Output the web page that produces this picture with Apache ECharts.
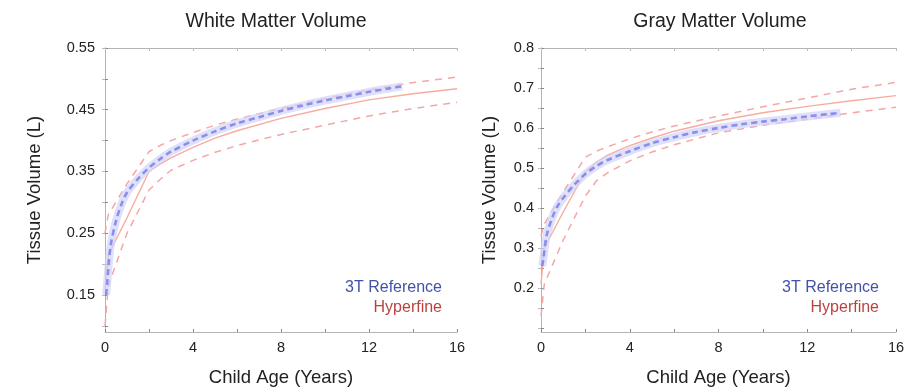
<!DOCTYPE html>
<html>
<head>
<meta charset="utf-8">
<script src="https://cdn.jsdelivr.net/npm/echarts@6/dist/echarts.min.js"></script>
<style>
  html, body { margin: 0; padding: 0; background: #fff; }
  #chart { width: 915px; height: 387px; }
</style>
</head>
<body>
<div id="chart"></div>
<script>
// ---- data ----
const titles = ['White Matter Volume', 'Gray Matter Volume']
const xTickLabels = [0, 4, 8, 12, 16]
const wmTickLabels = [0.15, 0.25, 0.35, 0.45, 0.55]
const gmTickLabels = [0.2, 0.3, 0.4, 0.5, 0.6, 0.7, 0.8]

// 3T reference curves
const ageRef = [0.05, 0.1, 0.25, 0.5, 0.75, 1, 1.5, 2, 2.5, 3, 4, 5, 6, 7, 8, 9, 10, 11, 12, 13, 13.5]
const wmRef = [0.15, 0.17, 0.228, 0.27, 0.297, 0.316, 0.338, 0.356, 0.37, 0.382, 0.4, 0.415, 0.428, 0.438, 0.448, 0.457, 0.465, 0.472, 0.479, 0.485, 0.488]
const gmRef = [0.255, 0.27, 0.33, 0.375, 0.405, 0.425, 0.458, 0.485, 0.505, 0.52, 0.542, 0.562, 0.577, 0.59, 0.6, 0.609, 0.616, 0.622, 0.629, 0.635, 0.638]

// Hyperfine fit + bounds
const ageHf = [0, 0.15, 1, 2, 2.5, 3, 4, 5, 6, 8, 10, 12, 14, 16]
const wmHf = [0.16, 0.215, 0.275, 0.35, 0.362, 0.372, 0.389, 0.404, 0.416, 0.436, 0.452, 0.466, 0.476, 0.484]
const wmHfHi = [0.25, 0.28, 0.33, 0.382, 0.392, 0.4, 0.413, 0.425, 0.435, 0.452, 0.468, 0.482, 0.494, 0.503]
const wmHfLo = [0.1, 0.165, 0.25, 0.32, 0.337, 0.352, 0.368, 0.381, 0.392, 0.41, 0.425, 0.44, 0.452, 0.462]
const gmHf = [0.21, 0.3, 0.39, 0.49, 0.515, 0.532, 0.556, 0.575, 0.592, 0.618, 0.638, 0.654, 0.668, 0.681]
const gmHfHi = [0.33, 0.36, 0.44, 0.527, 0.542, 0.553, 0.573, 0.59, 0.605, 0.63, 0.653, 0.675, 0.697, 0.714]
const gmHfLo = [0.13, 0.21, 0.32, 0.43, 0.468, 0.488, 0.518, 0.54, 0.558, 0.588, 0.607, 0.622, 0.638, 0.652]

const zip = (xs, ys) => xs.map((x, i) => [x, ys[i]])

const FONT = 'Liberation Sans, Arial, Helvetica, sans-serif'
const AXIS_GRAY = '#b4b4b4'
const REF_BLUE = '#7579e8'
const BAND = '#d2d3f8'
const HF_SOLID = '#f6ad9f'
const HF_DASH = '#f5a6a6'

const grids = [
  { left: 105, top: 48, width: 352, height: 284, outerBoundsMode: 'none' },
  { left: 541, top: 48, width: 355, height: 284, outerBoundsMode: 'none' },
]
const yNameGap = [61, 42]

const yRanges = [
  { min: 0.09, max: 0.55, labels: wmTickLabels, ticks: [0.1, 0.15, 0.2, 0.25, 0.3, 0.35, 0.4, 0.45, 0.5, 0.55] },
  { min: 0.09, max: 0.8, labels: gmTickLabels, ticks: [0.1, 0.15, 0.2, 0.25, 0.3, 0.35, 0.4, 0.45, 0.5, 0.55, 0.6, 0.65, 0.7, 0.75, 0.8] },
]

const xAxes = []
const yAxes = []
grids.forEach((g, i) => {
  xAxes.push({
    gridIndex: i, type: 'value', min: 0, max: 16, interval: 2,
    axisLine: { lineStyle: { color: AXIS_GRAY } },
    axisTick: { inside: true, length: 3, lineStyle: { color: '#888' } },
    axisLabel: { customValues: xTickLabels, color: '#222', fontSize: 14.5, fontFamily: FONT, margin: 8 },
    splitLine: { show: false },
    name: 'Child Age (Years)', nameLocation: 'middle', nameGap: 36,
    nameTextStyle: { color: '#222', fontSize: 18.5, fontFamily: FONT },
  })
  xAxes.push({
    gridIndex: i, type: 'value', min: 0, max: 16, interval: 2, position: 'top',
    axisLine: { lineStyle: { color: AXIS_GRAY } },
    axisTick: { inside: true, length: 3, lineStyle: { color: '#bbb' } },
    axisLabel: { show: false }, splitLine: { show: false },
  })
  const r = yRanges[i]
  yAxes.push({
    gridIndex: i, type: 'value', min: r.min, max: r.max,
    axisLine: { show: true, lineStyle: { color: AXIS_GRAY } },
    axisTick: { show: true, inside: true, length: 3, customValues: r.ticks, lineStyle: { color: '#888' } },
    axisLabel: { customValues: r.labels, color: '#222', fontSize: 14.5, fontFamily: FONT, margin: i ? 7 : 10 },
    splitLine: { show: false },
    name: 'Tissue Volume (L)', nameLocation: 'middle', nameGap: yNameGap[i],
    nameTextStyle: { color: '#222', fontSize: 18.5, fontFamily: FONT },
  })
  yAxes.push({
    gridIndex: i, type: 'value', min: r.min, max: r.max, position: 'right',
    axisLine: { show: true, lineStyle: { color: AXIS_GRAY } },
    axisTick: { show: true, inside: true, length: 3, customValues: r.ticks, lineStyle: { color: '#bbb' } },
    axisLabel: { show: false }, splitLine: { show: false },
  })
})

function panelSeries(i, ref, hf, hi, lo) {
  const ax = { xAxisIndex: i * 2, yAxisIndex: i * 2 }
  const base = { type: 'line', showSymbol: false, silent: true, ...ax }
  return [
    { ...base, name: 'hi' + i, data: zip(ageHf, hi), lineStyle: { color: HF_DASH, width: 1.5, type: [7, 6] } },
    { ...base, name: 'lo' + i, data: zip(ageHf, lo), lineStyle: { color: HF_DASH, width: 1.5, type: [7, 6] } },
    { ...base, name: 'hf' + i, data: zip(ageHf, hf), lineStyle: { color: HF_SOLID, width: 1.4 } },
    { ...base, name: 'band' + i, data: zip(ageRef, ref), smooth: 0.3, lineStyle: { color: BAND, width: 8, opacity: 0.7 } },
    { ...base, name: 'ref' + i, data: zip(ageRef, ref), smooth: 0.3, lineStyle: { color: REF_BLUE, width: 2.6, type: [6, 4], opacity: 0.8 } },
  ]
}

const legendText = (right, top, text, color) => ({
  type: 'text', right, top,
  style: { text, fill: color, font: '16px ' + FONT, textAlign: 'right' },
})

const titleStyle = { fontSize: 19.5, fontWeight: 'normal', color: '#222', fontFamily: FONT }

const chart = echarts.init(document.getElementById('chart'), null, { renderer: 'canvas' })
chart.setOption({
  animation: false,
  backgroundColor: '#fff',
  title: [
    { text: titles[0], left: 271, top: 7, textAlign: 'center', textStyle: titleStyle },
    { text: titles[1], left: 715, top: 7, textAlign: 'center', textStyle: titleStyle },
  ],
  grid: grids,
  xAxis: xAxes,
  yAxis: yAxes,
  series: [
    ...panelSeries(0, wmRef, wmHf, wmHfHi, wmHfLo),
    ...panelSeries(1, gmRef, gmHf, gmHfHi, gmHfLo),
  ],
  graphic: [
    legendText(473, 280, '3T Reference', '#4152a8'),
    legendText(473, 300, 'Hyperfine', '#b8433e'),
    legendText(36, 280, '3T Reference', '#4152a8'),
    legendText(36, 300, 'Hyperfine', '#b8433e'),
  ],
})
</script>
</body>
</html>
